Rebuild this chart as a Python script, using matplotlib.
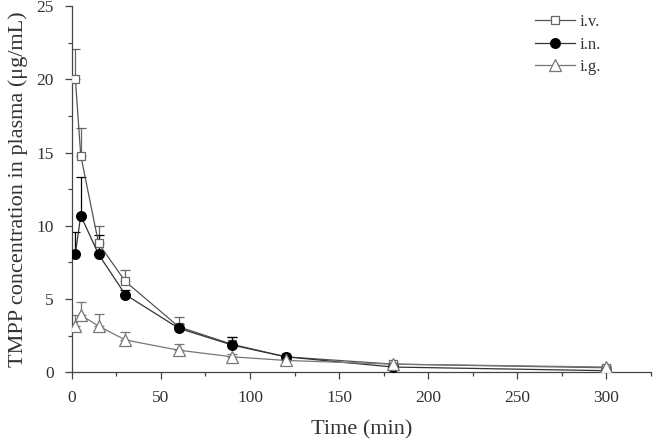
import numpy as np
import matplotlib
matplotlib.use("Agg")
import matplotlib.pyplot as plt
from matplotlib.ticker import MultipleLocator

plt.rcParams['font.family'] = ['Liberation Serif', 'DejaVu Serif']

# sampling times (min)
time = [2, 5, 15, 30, 60, 90, 120, 180, 300]

# mean concentration (ug/mL) and upper SD
iv = [20.0, 14.8, 8.8, 6.2, 3.1, 1.9, 1.05, 0.55, 0.3]
iv_sd = [2.1, 1.9, 1.2, 0.75, 0.7, 0.5, 0.15, 0.1, 0.1]
inas = [8.1, 10.7, 8.05, 5.3, 3.0, 1.85, 1.05, 0.35, 0.1]
inas_sd = [1.45, 2.6, 1.3, 0.3, 0.3, 0.55, 0.15, 0.1, 0.05]
ig = [3.15, 3.9, 3.15, 2.2, 1.5, 1.05, 0.8, 0.55, 0.35]
ig_sd = [0.75, 0.9, 0.8, 0.55, 0.45, 0.2, 0.1, 0.1, 0.1]

fig = plt.figure(figsize=(6.53, 4.42), dpi=100)
ax = fig.add_axes([0.110, 0.158, 0.887, 0.828])

series = [
    ("i.v.", iv, iv_sd, "s", "white", "#666666", 5.5, "#555555"),
    ("i.n.", inas, inas_sd, "o", "black", "black", 7, "#333333"),
    ("i.g.", ig, ig_sd, "^", "white", "#777777", 8, "#777777"),
]
for name, y, sd, mk, fc, ec, ms, lc in series:
    y = np.array(y)
    err = [np.zeros_like(y), np.array(sd)]
    ax.errorbar(time, y, yerr=err, fmt="none", ecolor=ec, elinewidth=0.9,
                capsize=3.5, capthick=0.9, zorder=2)
    ax.plot(time, y, color=lc, lw=0.9, marker=mk, markersize=ms,
            markerfacecolor=fc, markeredgecolor=ec, markeredgewidth=0.9,
            label=name, zorder=3)

ax.set_xlim(0, 325)
ax.set_ylim(0, 25)
ax.xaxis.set_major_locator(MultipleLocator(50))
ax.xaxis.set_minor_locator(MultipleLocator(25))
ax.yaxis.set_major_locator(MultipleLocator(5))
ax.yaxis.set_minor_locator(MultipleLocator(2.5))
ax.spines['top'].set_visible(False)
ax.spines['right'].set_visible(False)
for s in ['left', 'bottom']:
    ax.spines[s].set_color('#444444')
    ax.spines[s].set_linewidth(0.9)
ax.tick_params(which='major', length=5, width=0.9, color='#444444',
               labelsize=12.5, labelcolor='#333333')
ax.tick_params(axis='x', which='major', pad=8)
ax.tick_params(axis='y', which='major', pad=8)
ax.tick_params(which='minor', length=3, width=0.9, color='#444444')

ax.set_xlabel("Time (min)", fontsize=16, color='#333333', labelpad=10)
ax.set_ylabel("TMPP concentration in plasma (\u03bcg/mL)", fontsize=16,
              color='#333333', labelpad=6)

leg = ax.legend(loc='upper right', bbox_to_anchor=(0.94, 1.02), frameon=False,
                fontsize=12, handlelength=2.4, labelspacing=0.4,
                handletextpad=0.3, labelcolor='#333333')

fig.savefig("out.png", dpi=100)
